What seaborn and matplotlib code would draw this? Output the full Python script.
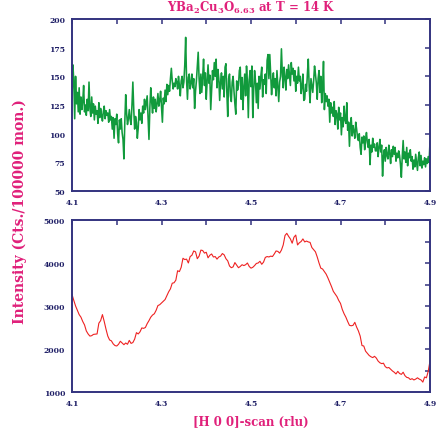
import numpy as np
import pandas as pd
import matplotlib
matplotlib.use("Agg")
import matplotlib.pyplot as plt
import seaborn as sns

# ---- data -------------------------------------------------------------
h_top_start, h_top_step = 4.1, 0.002
green_counts = [
    130,160,146,113,150,126,136,119,140,117,132,121,128,142,119,125,116,130,120,145,
    122,115,132,118,126,112,124,117,120,109,127,114,122,116,111,119,124,113,120,116,
    118,110,121,112,115,104,114,96,113,108,117,100,92,112,104,113,101,95,78,110,
    134,118,108,113,121,112,108,125,145,121,104,115,110,96,105,121,112,118,109,124,
    118,130,121,127,133,115,95,123,140,128,118,132,122,130,119,126,135,124,129,137,
    124,110,131,126,138,128,143,134,142,137,148,157,146,139,144,141,148,145,139,150,
    142,133,146,150,140,145,160,184,147,130,149,152,139,144,152,140,148,122,137,146,
    158,171,148,135,152,136,149,165,142,153,130,146,160,144,151,121,138,155,147,162,
    150,165,140,156,148,129,145,153,139,150,132,158,161,136,115,148,152,133,128,145,
    150,137,126,117,146,138,142,155,158,130,149,121,141,152,133,159,145,114,147,155,
    141,159,114,138,155,146,127,144,122,150,139,150,158,132,147,143,152,135,164,169,
    148,169,152,134,146,153,140,148,133,155,142,128,145,150,174,152,140,158,149,138,
    156,148,160,151,142,162,152,157,146,155,137,150,144,158,146,150,135,141,152,129,
    130,143,137,152,165,141,127,148,142,136,146,159,152,144,130,148,155,136,150,127,
    140,163,121,135,128,133,124,130,110,127,118,123,115,128,108,120,117,104,123,112,
    118,99,114,106,124,112,109,127,103,110,89,108,114,98,107,102,96,110,104,97,
    94,100,88,82,97,92,98,86,95,101,92,88,95,73,90,84,96,88,91,85,
    85,92,80,88,95,84,90,63,80,86,76,88,81,78,90,83,74,86,80,89,
    82,88,76,83,79,85,81,73,62,80,94,78,84,75,88,72,83,79,86,76,
    80,69,77,71,82,75,68,79,84,72,81,70,76,73,79,71,78,74,80,75,
    93,
]

h_bot_start, h_bot_step = 4.1, 0.004
red_counts = [
    3270,3130,3000,2900,2800,2740,2640,2560,2420,2350,2300,2310,2340,2345,2350,2600,2660,2800,2640,2460,
    2300,2210,2190,2120,2080,2070,2110,2180,2140,2100,2140,2110,2200,2130,2150,2230,2380,2350,2400,2490,
    2480,2500,2590,2660,2740,2790,2820,2900,3010,3030,3070,3110,3150,3240,3330,3400,3530,3540,3600,3820,
    3800,3900,4110,4080,4090,4000,4150,4180,4280,4260,4100,4160,4300,4290,4230,4250,4120,4180,4210,4140,
    4150,4090,4140,4160,4220,4190,4100,4050,3930,3890,3910,4010,3950,3890,3920,3960,3940,3960,4000,3920,
    3880,3900,3940,3990,4000,4040,3970,4020,4130,4150,4140,4160,4150,4210,4280,4270,4230,4300,4420,4640,
    4690,4620,4560,4460,4600,4650,4420,4470,4500,4560,4490,4510,4490,4480,4360,4310,4260,4140,4000,3880,
    3860,3800,3740,3650,3550,3450,3340,3280,3220,3130,3060,2920,2820,2740,2640,2550,2540,2550,2620,2510,
    2420,2300,2080,2070,1950,1900,1850,1820,1800,1830,1790,1720,1680,1660,1670,1590,1560,1570,1530,1490,
    1460,1420,1480,1430,1410,1460,1380,1340,1330,1290,1310,1280,1300,1330,1300,1280,1230,1350,1330,1480,
    1720,
]

x_ticks = [4.1, 4.2, 4.3, 4.4, 4.5, 4.6, 4.7, 4.8, 4.9]
x_ticklabels = ["4.1", "", "4.3", "", "4.5", "", "4.7", "", "4.9"]
top_yticks = [50, 75, 100, 125, 150, 175, 200]
bot_yticks = [1000, 1500, 2000, 2500, 3000, 3500, 4000, 4500, 5000]
bot_yticklabels = ["1000", "", "2000", "", "3000", "", "4000", "", "5000"]

title_text = r"YBa$_\mathbf{2}$Cu$_\mathbf{3}$O$_\mathbf{6.63}$ at T = 14 K"
ylabel_text = "Intensity (Cts./100000 mon.)"
xlabel_text = "[H 0 0]-scan (rlu)"

# ---- frames -----------------------------------------------------------
df_top = pd.DataFrame({
    "h": h_top_start + h_top_step * np.arange(len(green_counts)),
    "counts": green_counts,
})
df_bot = pd.DataFrame({
    "h": h_bot_start + h_bot_step * np.arange(len(red_counts)),
    "counts": red_counts,
})

# ---- style ------------------------------------------------------------
sns.set_theme(style="white")
plt.rcParams["font.family"] = ["DejaVu Serif", "DejaVu Sans"]
plt.rcParams["mathtext.fontset"] = "dejavuserif"
plt.rcParams["mathtext.default"] = "bf"

navy = "#33337f"
tick_col = "#1f1f66"
magenta = "#e0207a"
green = "#119a3c"
red = "#ee2222"

fig = plt.figure(figsize=(4.36, 4.35), dpi=100)
ax1 = fig.add_axes([72/436, 1 - 192/435, 358/436, 172/435])
ax2 = fig.add_axes([72/436, 1 - 393/435, 358/436, 172/435])

sns.lineplot(data=df_top, x="h", y="counts", ax=ax1, color=green, linewidth=1.15,
             estimator=None, sort=False)
sns.lineplot(data=df_bot, x="h", y="counts", ax=ax2, color=red, linewidth=0.8,
             estimator=None, sort=False)

def style_axes(ax, ylim, yticks, yticklabels):
    ax.set_xlim(4.1, 4.9)
    ax.set_ylim(*ylim)
    ax.set_xticks(x_ticks)
    ax.set_xticklabels(x_ticklabels)
    ax.set_yticks(yticks)
    ax.set_yticklabels(yticklabels)
    ax.set_xlabel("")
    ax.set_ylabel("")
    for s in ax.spines.values():
        s.set_color(navy)
        s.set_linewidth(1.4)
        s.set_visible(True)
    ax.tick_params(axis="both", direction="in", length=3.5, width=1.1, color=navy,
                   top=True, right=True, labelcolor=tick_col, labelsize=5.5)
    ax.tick_params(axis="x", pad=5)
    ax.tick_params(axis="y", pad=5)
    for lab in ax.get_xticklabels() + ax.get_yticklabels():
        lab.set_fontweight("bold")
    ax.grid(False)
    leg = ax.get_legend()
    if leg is not None:
        leg.remove()

style_axes(ax1, (50, 200), top_yticks, [str(v) for v in top_yticks])
style_axes(ax2, (1000, 5000), bot_yticks, bot_yticklabels)

fig.text(251/436, 1 - 8/435, title_text, ha="center", va="center",
         color=magenta, fontsize=8.5, fontweight="bold")
fig.text(20/436, 1 - 212/435, ylabel_text, ha="center", va="center", rotation=90,
         color=magenta, fontsize=10, fontweight="bold")
fig.text(251/436, 1 - 422/435, xlabel_text, ha="center", va="center",
         color=magenta, fontsize=8.5, fontweight="bold")

fig.savefig("out.png", dpi=100)
